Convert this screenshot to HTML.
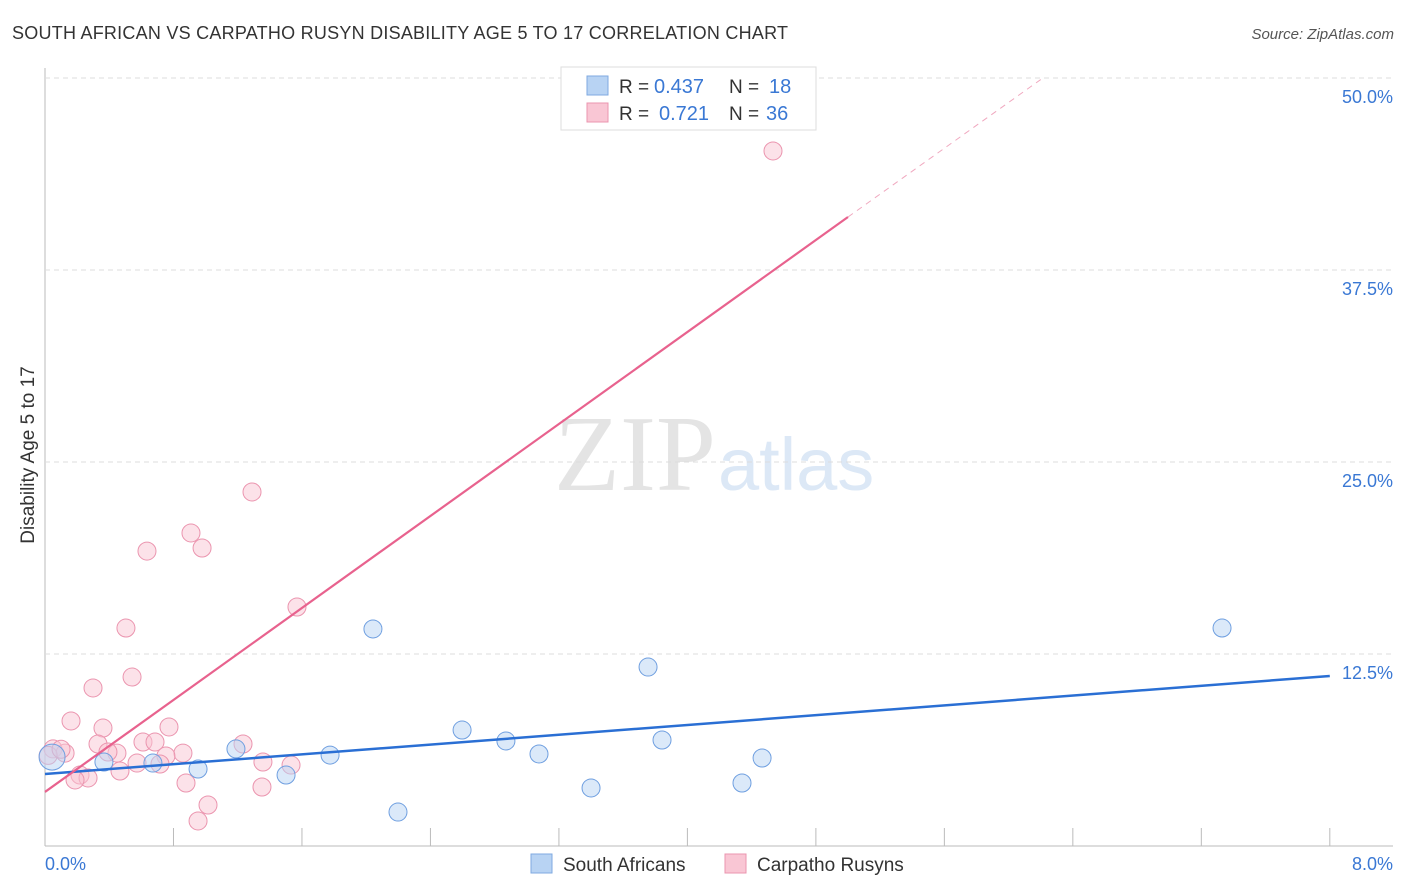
<!DOCTYPE html>
<html><head><meta charset="utf-8">
<style>
body{margin:0;background:#fff;width:1406px;height:892px;overflow:hidden;font-family:"Liberation Sans",sans-serif;}
svg{position:absolute;left:0;top:0}
</style></head>
<body>
<svg id="chart" width="1406" height="892">
<text x="12" y="39" font-size="18" fill="#333" textLength="776">SOUTH AFRICAN VS CARPATHO RUSYN DISABILITY AGE 5 TO 17 CORRELATION CHART</text>
<text x="1394" y="39" font-size="15" fill="#555" text-anchor="end" font-style="italic">Source: ZipAtlas.com</text>
<text x="716" y="490" font-size="108" fill="#e4e4e4" text-anchor="end" font-family="Liberation Serif,serif">ZIP</text>
<text x="718" y="490" font-size="74" fill="#dce8f6">atlas</text>
<text transform="translate(34,455) rotate(-90)" font-size="19" fill="#333" text-anchor="middle">Disability Age 5 to 17</text>
<g id="grid"></g><g id="marks"></g>
<g>
<rect x="561" y="67" width="255" height="63" fill="#fff" stroke="#ddd"/>
<rect x="587" y="76" width="21" height="19" fill="#b8d3f3" stroke="#7fa9e0"/>
<rect x="587" y="103" width="21" height="19" fill="#f9c6d4" stroke="#eb95af"/>
<text x="619" y="93" font-size="19" fill="#333">R =</text>
<text x="654" y="93" font-size="20" fill="#3a78d4">0.437</text>
<text x="729" y="93" font-size="19" fill="#333">N =</text>
<text x="769" y="93" font-size="20" fill="#3a78d4">18</text>
<text x="619" y="120" font-size="19" fill="#333">R =</text>
<text x="659" y="120" font-size="20" fill="#3a78d4">0.721</text>
<text x="729" y="120" font-size="19" fill="#333">N =</text>
<text x="766" y="120" font-size="20" fill="#3a78d4">36</text>
</g>
<g>
<rect x="531" y="854" width="21" height="19" fill="#b8d3f3" stroke="#7fa9e0"/>
<text x="563" y="871" font-size="19" fill="#333">South Africans</text>
<rect x="725" y="854" width="21" height="19" fill="#f9c6d4" stroke="#eb95af"/>
<text x="757" y="871" font-size="19" fill="#333">Carpatho Rusyns</text>
</g>
</svg>
<script>
const yTicks=[12.5,25,37.5,50];
const yTickLabels=["12.5%","25.0%","37.5%","50.0%"];
const xTicks=[0,0.8,1.6,2.4,3.2,4,4.8,5.6,6.4,7.2,8];
const blueX=[0.044,0.367,0.672,0.953,1.189,1.501,1.775,2.042,2.198,2.597,2.870,3.076,3.400,3.755,3.842,4.340,4.465,7.329];
const blueY=[5.79,5.47,5.40,5.01,6.32,4.62,5.92,14.13,2.21,7.55,6.84,5.99,3.78,11.65,6.90,4.10,5.73,14.19];
const pinkX=[1.569,0.504,0.542,0.299,0.162,0.361,0.772,0.330,0.610,0.685,1.233,0.448,0.392,0.859,0.753,0.050,0.125,0.573,0.716,1.357,1.532,0.467,0.218,0.268,0.187,0.878,1.351,1.015,0.953,4.533,1.289,0.909,0.978,0.635,0.020,0.100];
const pinkY=[15.56,14.19,11.00,10.29,8.14,7.68,7.75,6.64,6.77,6.77,6.64,6.05,6.12,6.05,5.86,6.32,6.05,5.40,5.34,5.47,5.27,4.88,4.62,4.43,4.30,4.10,3.84,2.67,1.63,45.25,23.05,20.38,19.40,19.20,5.90,6.30];
const blueLine=[[0,4.69],[8,11.07]];
const pinkLine=[[0,3.52],[5.0,40.95]];
const pinkDash=[[5.0,40.95],[6.2,49.9]];
const X=v=>45+v*160.6, Y=v=>846-v*15.36;
const NS="http://www.w3.org/2000/svg";
const grid=document.getElementById('grid'), marks=document.getElementById('marks');
function mk(tag,attrs,parent){const e=document.createElementNS(NS,tag);for(const k in attrs)e.setAttribute(k,attrs[k]);parent.appendChild(e);return e;}
let e;
e=mk('line',{x1:45,y1:68,x2:45,y2:846,stroke:'#bbb'},grid);


e=mk('line',{x1:45,y1:846,x2:1393,y2:846,stroke:'#bbb'},grid);


yTicks.forEach((t,i)=>{
 e=mk('line',{x1:45,y1:Y(t),x2:1393,y2:Y(t),stroke:'#ddd','stroke-dasharray':'5,4'},grid);
 
 
 e=mk('text',{x:1393,y:Y(t)+25,'font-size':18,fill:'#3a78d4','text-anchor':'end'},grid);
 e.textContent=yTickLabels[i];
 
 
});
xTicks.forEach(t=>{
 e=mk('line',{x1:X(t),y1:828,x2:X(t),y2:846,stroke:'#bbb'},grid);
 
 
});
e=mk('text',{x:45,y:870,'font-size':18,fill:'#3a78d4'},grid);e.textContent='0.0%';


e=mk('text',{x:1393,y:870,'font-size':18,fill:'#3a78d4','text-anchor':'end'},grid);e.textContent='8.0%';


pinkX.forEach((x,i)=>{
 e=mk('circle',{cx:X(x),cy:Y(pinkY[i]),r:9,fill:'#f9c6d4','fill-opacity':0.5,stroke:'#eb95af','stroke-width':1},marks);
 
 
});
blueX.forEach((x,i)=>{
 e=mk('circle',{cx:X(x),cy:Y(blueY[i]),r:i==0?13:9,fill:'#b8d3f3','fill-opacity':0.5,stroke:'#6f9fe0','stroke-width':1},marks);
 
 
});
e=mk('line',{x1:X(blueLine[0][0]),y1:Y(blueLine[0][1]),x2:X(blueLine[1][0]),y2:Y(blueLine[1][1]),stroke:'#2a6fd4','stroke-width':2.5},marks);


e=mk('line',{x1:X(pinkLine[0][0]),y1:Y(pinkLine[0][1]),x2:X(pinkLine[1][0]),y2:Y(pinkLine[1][1]),stroke:'#e8628e','stroke-width':2.2},marks);


e=mk('line',{x1:X(pinkDash[0][0]),y1:Y(pinkDash[0][1]),x2:X(pinkDash[1][0]),y2:Y(pinkDash[1][1]),stroke:'#f0a8bf','stroke-width':1,'stroke-dasharray':'6,5'},marks);


</script>
</body></html>
